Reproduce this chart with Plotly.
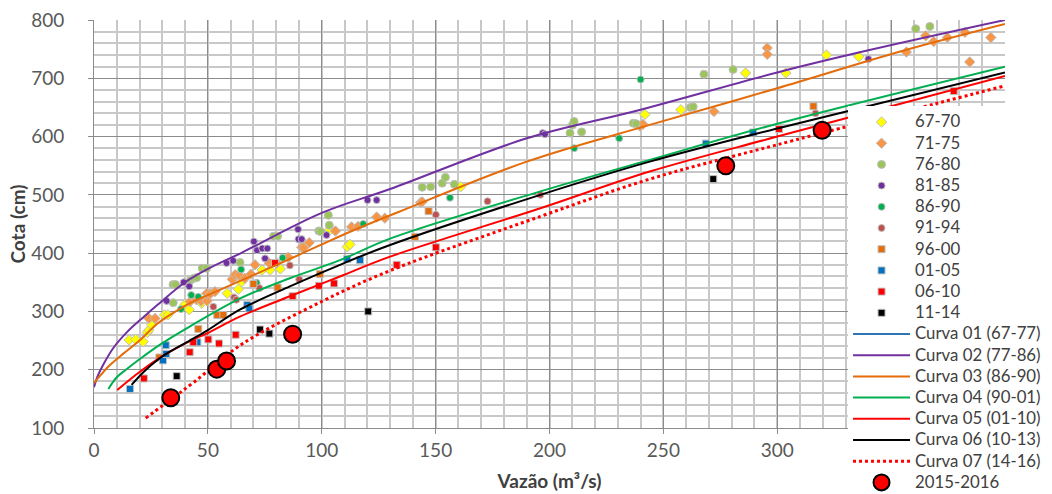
import plotly.graph_objects as go

# ---------------- observed points (Q in m3/s, H in cm) ----------------
q_6770 = [15.4, 18.3, 21.6, 23.4, 24.1, 25.3, 31, 32.5, 40, 41.8, 47.3, 58.5, 63.4, 64.8, 73.8, 77.3, 81.8,
          103.6, 111.2, 112.4, 161, 241.9, 257.7, 286.1, 303.8, 321.6, 335.8]
h_6770 = [251, 252, 248, 264, 268, 277, 294, 294, 312, 303, 314, 331, 338, 351, 371, 371, 373,
          440, 411, 415, 514, 638, 646, 709, 709, 740, 737]

q_7175 = [24.1, 26.8, 42.2, 45, 47.1, 49.7, 49.5, 51, 53.1, 60.7, 62, 63.8, 66.3, 68.9, 70.7, 77, 80.2, 85.3,
          91.2, 92, 94.5, 106, 113.1, 116, 124.1, 127.7, 143.4, 144.1, 239.7, 241, 272.2, 295.6, 295.6,
          356.7, 365.2, 368.7, 374.7, 382.4, 384.5, 393.8]
h_7175 = [288, 288, 317, 320, 318, 318, 331, 330, 334, 355, 363, 362, 357, 364, 380, 383, 383, 393,
          410, 409, 418, 438, 445, 446, 462, 460, 487, 488, 618, 621, 643, 752, 741,
          745, 773, 763, 770, 779, 728, 770]

q_7680 = [34.7, 35.8, 34.8, 42.4, 43.9, 45.1, 47.5, 49.4, 64.1, 78.8, 80.6, 98.7, 99.5, 102.9, 103.3,
          144.1, 147.8, 152.9, 154.3, 158.2, 209, 210.1, 210.8, 214.1, 236.8, 238, 261.9, 263.1,
          267.8, 280.6, 360.8, 367]
h_7680 = [346, 346, 315, 354, 357, 358, 374, 374, 384, 429, 429, 438, 437, 465, 448,
          513, 514, 520, 530, 518, 606, 620, 626, 608, 623, 622, 650, 651,
          707, 715, 785, 789]

q_8185 = [31.9, 39.4, 41.8, 58.2, 61.1, 70.2, 71.6, 73.9, 76.1, 75.1, 89.6, 89.8, 91.2, 102.1,
          120.1, 124.1, 197, 198, 340]
h_8185 = [318, 350, 343, 383, 387, 420, 405, 408, 408, 391, 441, 424, 424, 431,
          491, 491, 606, 604, 733]

q_8690 = [38.2, 42.7, 45.8, 64.6, 71.4, 82.8, 118.2, 156.3, 210.8, 230.6, 240]
h_8690 = [304, 328, 325, 372, 349, 392, 450, 495, 580, 597, 698]

q_9194 = [52.4, 61.5, 62.5, 72.6, 86, 90.1, 150.1, 172.8, 196, 316.8]
h_9194 = [308, 324, 320, 340, 379, 355, 466, 489, 500, 640]

q_9600 = [28.7, 45.8, 54.1, 56.8, 70, 80.6, 99.2, 140.9, 146.9, 315.9]
h_9600 = [221, 270, 294, 294, 347, 341, 364, 428, 472, 652]

q_0105 = [15.8, 30.3, 31.7, 31.5, 45.4, 67.3, 68.2, 111.2, 116.8, 268.7, 289.4]
h_0105 = [167, 216, 227, 242, 247, 311, 305, 390, 388, 588, 607]

q_0610 = [21.9, 42, 43.6, 50.2, 54.9, 62.2, 79.5, 87.2, 98.8, 105.4, 132.9, 150.1, 300.8, 377.5]
h_0610 = [185, 230, 247, 252, 245, 260, 383, 326, 344, 348, 380, 410, 613, 678]

q_1114 = [36.3, 72.9, 77, 120.4, 271.9]
h_1114 = [189, 269, 262, 300, 527]

q_1516 = [33.7, 53.9, 58.2, 87.2, 277.4, 319.7]
h_1516 = [152, 201, 215, 261, 550, 611]

# ---------------- rating curves ----------------
q_c02 = [0, 1.5, 4.4, 8.8, 14.6, 21.9, 27.8, 40, 50, 65, 100, 130, 190, 240, 300, 340, 400]
h_c02 = [170, 188, 211, 239, 265, 291, 311, 350, 373, 401, 469, 510, 597, 646, 710, 748, 800]

q_c03 = [0, 3, 7, 13, 20, 27.5, 35, 42, 50, 57, 64, 71, 86, 100, 115, 134, 190, 244, 300, 356, 400]
h_c03 = [177, 191, 208, 228, 250, 278, 298, 314, 328, 340, 352, 364, 390, 415, 441, 471, 557, 620, 683, 748, 793]

q_c04 = [6.3, 10, 14, 20, 29, 42, 64, 86, 108, 130, 196, 244, 300, 400]
h_c04 = [167, 187, 200, 218, 243, 274, 322, 357, 388, 425, 506, 560, 622, 720]

q_c05 = [10.2, 18, 27.5, 42, 50, 64, 86, 108, 130, 196, 244, 300, 400]
h_c05 = [165, 190, 217, 249, 263, 291, 326, 360, 394, 477, 540, 600, 704]

q_c06 = [16.5, 22, 29, 32, 42, 50, 64, 86, 108, 130, 196, 244, 300, 400]
h_c06 = [174, 197, 220, 228, 250, 268, 303, 343, 380, 414, 500, 557, 614, 710]

q_c07 = [22.7, 31, 44, 65, 100, 130, 196, 244, 300, 400]
h_c07 = [117, 141, 179, 244, 317, 370, 463, 527, 586, 687]

# x tick labels (350 and 400 sit under the legend in the reference)
x_tickvals = [0, 50, 100, 150, 200, 250, 300, 350, 400]
x_ticktext = ["0", "50", "100", "150", "200", "250", "300", "", ""]

point_series = [
    ("67-70", q_6770, h_6770, "#FFFF00", "diamond", 8),
    ("71-75", q_7175, h_7175, "#F79646", "diamond", 8),
    ("76-80", q_7680, h_7680, "#9BC55A", "circle", 8),
    ("81-85", q_8185, h_8185, "#7030A0", "circle", 7),
    ("86-90", q_8690, h_8690, "#00B050", "circle", 7),
    ("91-94", q_9194, h_9194, "#C0504D", "circle", 7),
    ("96-00", q_9600, h_9600, "#E46C0A", "square", 7),
    ("01-05", q_0105, h_0105, "#0070C0", "square", 7),
    ("06-10", q_0610, h_0610, "#FF0000", "square", 7),
    ("11-14", q_1114, h_1114, "#000000", "square", 7),
]

curve_series = [
    ("Curva 01 (67-77)", [None], [None], "#2E75B6", "solid"),
    ("Curva 02 (77-86)", q_c02, h_c02, "#7030A0", "solid"),
    ("Curva 03 (86-90)", q_c03, h_c03, "#E46C0A", "solid"),
    ("Curva 04 (90-01)", q_c04, h_c04, "#00B050", "solid"),
    ("Curva 05 (01-10)", q_c05, h_c05, "#FF0000", "solid"),
    ("Curva 06 (10-13)", q_c06, h_c06, "#000000", "solid"),
    ("Curva 07 (14-16)", q_c07, h_c07, "#FF0000", "dot"),
]

LEG_TXT = '<span style="font-size:16.8px">{}</span>'

fig = go.Figure()

for name, q, h, col, sym, sz in point_series:
    fig.add_trace(go.Scatter(
        x=q, y=h, mode="markers", name=LEG_TXT.format(name),
        marker=dict(color=col, symbol=sym, size=sz, line=dict(color="#BFBFBF", width=1)),
    ))

for name, q, h, col, dash in curve_series:
    fig.add_trace(go.Scatter(
        x=q, y=h, mode="lines", name=LEG_TXT.format(name), line_shape="spline",
        line=dict(color=col, width=3 if dash == "dot" else 2, dash=dash),
    ))

fig.add_trace(go.Scatter(
    x=q_1516, y=h_1516, mode="markers", name=LEG_TXT.format("2015-2016"),
    marker=dict(color="#FF0000", symbol="circle", size=17, line=dict(color="#000000", width=2)),
))

FONT = "Lato"
grid_major = "#8C8C8C"
grid_minor = "#C8C8C8"

fig.update_layout(
    width=1052, height=494,
    margin=dict(l=94, r=47, t=20, b=66, autoexpand=False),
    paper_bgcolor="white", plot_bgcolor="white",
    font=dict(family=FONT, size=19, color="#595959"),
    showlegend=True,
    legend=dict(
        x=0.8277, y=0.7882, xanchor="left", yanchor="top",
        bgcolor="white", borderwidth=0,
        font=dict(family=FONT, size=14, color="#404040"),
        itemwidth=57, tracegroupgap=0,
    ),
    xaxis=dict(
        range=[0, 400], tickvals=x_tickvals, ticktext=x_ticktext, automargin=False,
        showgrid=True, gridcolor=grid_major, gridwidth=1,
        minor=dict(dtick=10, tick0=0, showgrid=True, gridcolor=grid_minor, gridwidth=1.5,
                   ticks=""),
        ticks="outside", ticklen=5, tickcolor=grid_major,
        showline=True, linecolor=grid_major, linewidth=1,
        zeroline=False,
        ticklabelstandoff=0,
        title=dict(text="<b>Vazão (m³/s)</b>", font=dict(family=FONT, size=19, color="#404040"), standoff=14),
    ),
    yaxis=dict(
        range=[100, 800], dtick=100, tick0=0, automargin=False,
        showgrid=True, gridcolor=grid_major, gridwidth=1,
        minor=dict(dtick=20, showgrid=True, gridcolor=grid_minor, gridwidth=1.5,
                   ticks=""),
        ticks="outside", ticklen=5, tickcolor=grid_major,
        showline=True, linecolor=grid_major, linewidth=1,
        zeroline=False,
        ticklabelstandoff=20,
        title=dict(text="<b>Cota (cm)</b>", font=dict(family=FONT, size=19, color="#404040"), standoff=0),
    ),
)

fig.write_html(
    "out.html",
    config={"displayModeBar": False},
    post_script="document.body.style.margin='0';document.body.style.overflow='hidden';",
)
